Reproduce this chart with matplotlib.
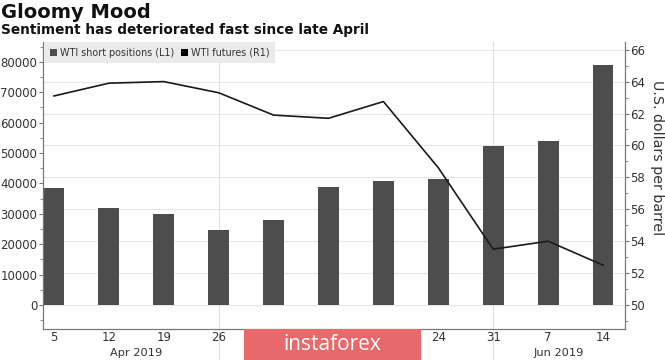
import matplotlib
matplotlib.use("Agg")
import matplotlib.pyplot as plt
import matplotlib.transforms as mtransforms
from matplotlib.patches import Rectangle, Patch
from matplotlib.ticker import MultipleLocator

# ---- data ----
day_labels = ['5', '12', '19', '26', '3', '10', '17', '24', '31', '7', '14']
short_positions = [38500, 31900, 29800, 24700, 27900, 38900, 40900, 41500, 52400, 53900, 78800]
wti_futures = [63.1, 63.9, 64.0, 63.3, 61.9, 61.7, 62.75, 58.6, 53.5, 54.0, 52.5]
month_labels = ['Apr 2019', 'May 2019', 'Jun 2019']
month_centers = [1.5, 5.5, 9.2]
month_separators = [3, 8]
left_ticks = [0, 10000, 20000, 30000, 40000, 50000, 60000, 70000, 80000]
right_ticks = [50, 52, 54, 56, 58, 60, 62, 64, 66]

title = 'Gloomy Mood'
subtitle = 'Sentiment has deteriorated fast since late April'
bar_name = 'WTI short positions (L1)'
line_name = 'WTI futures (R1)'
right_label = 'U.S. dollars per barrel'

plt.rcParams['font.family'] = ['DejaVu Sans']

W, H = 665, 360
fig = plt.figure(figsize=(W / 100, H / 100), dpi=100)
fig.patch.set_facecolor('white')

L, R, T, B = 43, 625, 42, 329
ax = fig.add_axes([L / W, 1 - B / H, (R - L) / W, (B - T) / H])
ax2 = ax.twinx()

x = list(range(len(day_labels)))
bar_color = '#4d4d4d'
ax.bar(x, short_positions, width=0.38, color=bar_color, zorder=3)
ax2.plot(x, wti_futures, color='#1a1a1a', lw=1.2, zorder=4)

ax.set_xlim(-0.2, 10.4)
ax.set_ylim(-7900, 86500)
ax2.set_ylim(48.5, 66.48)

ax.set_yticks(left_ticks)
ax.set_yticklabels([str(v) for v in left_ticks])
ax.yaxis.set_minor_locator(MultipleLocator(5000))
ax2.set_yticks(right_ticks)
ax2.set_yticklabels([str(v) for v in right_ticks])
ax2.yaxis.set_minor_locator(MultipleLocator(1))

spine_c = '#777777'
text_c = '#333333'
for a in (ax, ax2):
    a.spines['top'].set_visible(False)
    for s in ('left', 'right', 'bottom'):
        a.spines[s].set_color(spine_c)
        a.spines[s].set_linewidth(0.8)
for a in (ax, ax2):
    a.tick_params(axis='y', which='major', length=3, color=spine_c, labelsize=8.5, labelcolor=text_c, pad=1)
    a.tick_params(axis='y', which='minor', length=2, color=spine_c)

ax.set_xticks(x)
ax.set_xticklabels(day_labels)
ax.tick_params(axis='x', length=0, labelsize=8.5, labelcolor=text_c, pad=1.5)

# gridlines at right-axis majors, drawn behind bars on the left axes
grid_tr = mtransforms.blended_transform_factory(ax.transAxes, ax2.transData)
for v in right_ticks:
    ax.plot([0, 1], [v, v], transform=grid_tr, color='#e6e6e6', lw=0.8, zorder=0)
ax2.set_zorder(ax.get_zorder() + 1)
ax2.patch.set_visible(False)

# month separators extending below the axis
for s in month_separators:
    ax.plot([s, s], [-0.12, 1], transform=ax.get_xaxis_transform(), color='#e0e0e0', lw=0.8,
            clip_on=False, zorder=0)

mt = mtransforms.blended_transform_factory(ax.transData, fig.transFigure)
month_texts = []
for lab, c in zip(month_labels, month_centers):
    month_texts.append(ax.text(c, 1 - 353 / H, lab, transform=mt, ha='center', va='center',
                               fontsize=8.2, color=text_c))

ax2.set_ylabel(right_label, rotation=270, fontsize=10.3, color=text_c, va='center')
ax2.yaxis.set_label_coords((656.5 - L) / (R - L), (B - 158) / (B - T))

# legend
handles = [Patch(facecolor=bar_color, edgecolor='none'), Patch(facecolor='#000000', edgecolor='none')]
leg = ax2.legend(handles, [bar_name, line_name], loc='upper left', bbox_to_anchor=(0.003, 1.0),
                 ncol=2, frameon=True, fontsize=6.9, handlelength=0.7, handleheight=0.7,
                 handletextpad=0.3, columnspacing=0.7, borderpad=0.6, borderaxespad=0.0)
leg.get_frame().set_facecolor('#ebebeb')
leg.get_frame().set_edgecolor('none')
leg.get_frame().set_alpha(1)
leg.get_frame().set_boxstyle('square', pad=0)
for t in leg.get_texts():
    t.set_color(text_c)

# titles
fig.text(1 / W, 1 - 12 / H, title, fontsize=14, fontweight='heavy', color='#111111', va='center', ha='left')
fig.text(1 / W, 1 - 30 / H, subtitle, fontsize=9.8, fontweight='bold', color='#111111', va='center', ha='left')

# watermark
wm_x0, wm_x1, wm_y0 = 244, 421, 329
fig.patches.append(Rectangle((wm_x0 / W, 0), (wm_x1 - wm_x0) / W, (H - wm_y0) / H, transform=fig.transFigure,
                             facecolor='#e8696c', edgecolor='none', zorder=20))
fig.text((wm_x0 + wm_x1) / 2 / W, 1 - 345 / H, 'instaforex', fontsize=15, color='white', ha='center',
         va='center', zorder=21, fontfamily='Open Sans')

# labels that sit fully under the watermark are not visible in the reference
fig.canvas.draw()
renderer = fig.canvas.get_renderer()
for t in list(ax.get_xticklabels()) + month_texts:
    bb = t.get_window_extent(renderer)
    if bb.x0 >= wm_x0 - 2 and bb.x1 <= wm_x1 + 2:
        t.set_visible(False)

fig.savefig('out.png', dpi=100)
